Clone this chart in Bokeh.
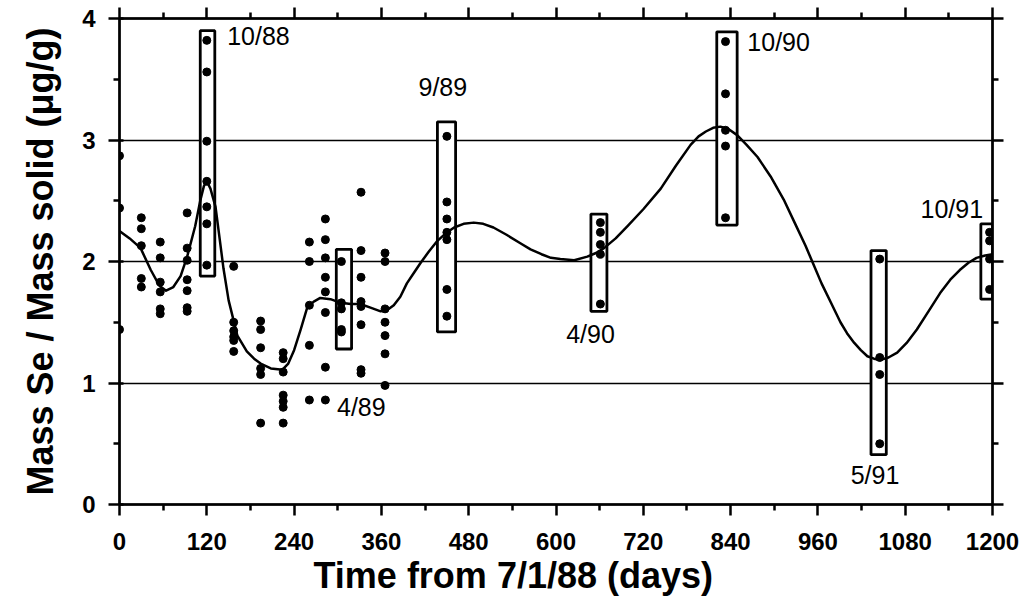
from bokeh.plotting import figure
from bokeh.models import Range1d, FixedTicker, LinearAxis, Title
from bokeh.embed import file_html
from bokeh.resources import INLINE
from bokeh.core.properties import value

# Sampling days (days from 7/1/88) and the Se concentrations measured on each
campaign_days = [0, 30, 56, 93, 120, 157, 194, 225, 261, 283, 305, 332, 365,
                 450, 661, 833, 1045, 1196]
campaign_se = [
    [2.87, 2.44, 1.44],
    [2.36, 2.27, 2.13, 1.86, 1.79],
    [2.16, 2.03, 1.83, 1.75, 1.61, 1.57],
    [2.40, 2.11, 2.01, 1.85, 1.76, 1.62, 1.59],
    [3.82, 3.56, 2.99, 2.66, 2.45, 2.31, 1.97],
    [1.96, 1.50, 1.43, 1.38, 1.35, 1.26],
    [1.51, 1.44, 1.29, 1.12, 1.07, 0.67],
    [1.25, 1.20, 1.09, 0.90, 0.85, 0.80, 0.67],
    [2.16, 2.00, 1.64, 1.31, 0.86],
    [2.35, 2.18, 2.03, 1.87, 1.75, 1.58, 1.13, 0.86],
    [2.00, 1.66, 1.61, 1.44, 1.42],
    [2.57, 2.09, 1.87, 1.67, 1.63, 1.48, 1.11, 1.08],
    [2.07, 2.00, 1.61, 1.50, 1.39, 1.24, 0.98],
    [3.03, 2.49, 2.35, 2.24, 2.18, 1.77, 1.55],
    [2.32, 2.24, 2.14, 2.06, 1.65],
    [3.81, 3.38, 3.08, 2.95, 2.36],
    [2.02, 1.21, 1.07, 0.50],
    [2.24, 2.17, 2.02, 1.77],
]

# Smoothed trend through the measurements
fit_day = [0, 14, 29, 43, 55, 64, 74, 84, 93, 104, 111, 116, 120, 125, 132,
           143, 150, 162, 175, 185, 194, 208, 224, 232, 240, 249, 258, 267,
           276, 290, 304, 318, 331, 345, 359, 368, 377, 386, 395, 405, 414,
           425, 437, 448, 460, 473, 487, 500, 514, 532, 551, 565, 580, 593,
           606, 625, 643, 655, 666, 682, 698, 720, 744, 765, 785, 796, 806,
           816, 826, 837, 849, 862, 877, 895, 913, 928, 943, 955, 965, 978,
           991, 1000, 1010, 1019, 1028, 1037, 1046, 1057, 1069, 1082, 1096,
           1112, 1128, 1142, 1155, 1167, 1178, 1190, 1200]
fit_se = [2.25, 2.19, 2.11, 1.93, 1.80, 1.76, 1.79, 1.88, 2.04, 2.29, 2.50,
          2.62, 2.66, 2.60, 2.45, 1.94, 1.68, 1.39, 1.26, 1.20, 1.16, 1.12,
          1.11, 1.16, 1.27, 1.44, 1.62, 1.67, 1.70, 1.69, 1.66, 1.65, 1.65,
          1.62, 1.59, 1.60, 1.64, 1.71, 1.82, 1.91, 1.99, 2.08, 2.17, 2.23,
          2.28, 2.31, 2.32, 2.31, 2.28, 2.22, 2.15, 2.10, 2.06, 2.03, 2.02,
          2.01, 2.04, 2.07, 2.11, 2.19, 2.29, 2.43, 2.60, 2.79, 2.96, 3.03,
          3.07, 3.10, 3.11, 3.09, 3.04, 2.96, 2.86, 2.70, 2.51, 2.32, 2.13,
          1.96, 1.82, 1.66, 1.50, 1.41, 1.33, 1.27, 1.22, 1.20, 1.19, 1.21,
          1.25, 1.33, 1.44, 1.59, 1.74, 1.85, 1.93, 1.99, 2.03, 2.05, 2.06]

# Sampling campaigns that are boxed and labelled
box_labels = ["10/88", "4/89", "9/89", "4/90", "10/90", "5/91", "10/91"]
box_start = [111, 298, 437, 648, 821, 1033, 1184]
box_end = [131, 319, 462, 670, 849, 1054, 1200]
box_low = [1.88, 1.28, 1.42, 1.59, 2.30, 0.41, 1.69]
box_high = [3.90, 2.10, 3.15, 2.39, 3.89, 2.09, 2.31]
label_day = [148, 299, 411, 614, 863, 1005, 1101]
label_se = [3.86, 0.80, 3.44, 1.40, 3.81, 0.24, 2.43]

x_ticks = list(range(0, 1201, 120))
x_minor = list(range(60, 1200, 120))
y_ticks = [0, 1, 2, 3, 4]
y_minor = [0.5, 1.5, 2.5, 3.5]

FONT = "Liberation Sans"

p = figure(width=1021, height=606, x_range=Range1d(0, 1200), y_range=Range1d(0, 4),
           output_backend="svg", toolbar_location=None,
           min_border_left=119, min_border_right=29, min_border_top=18,
           min_border_bottom=102, background_fill_color="white",
           border_fill_color="white")
p.outline_line_color = "black"
p.outline_line_width = 2

p.xgrid.visible = False
p.ygrid.ticker = FixedTicker(ticks=[1, 2, 3])
p.ygrid.grid_line_color = "black"
p.ygrid.grid_line_width = 1.6
p.ygrid.grid_line_alpha = 1.0


def style_axis(ax, ticks, minor, tick_in):
    ax.ticker = FixedTicker(ticks=ticks, minor_ticks=minor)
    ax.axis_line_color = "black"
    ax.axis_line_width = 2.5
    ax.major_tick_line_color = "black"
    ax.major_tick_line_width = 2.5
    ax.minor_tick_line_color = "black"
    ax.minor_tick_line_width = 2.5
    ax.major_tick_out = 11
    ax.major_tick_in = tick_in
    ax.minor_tick_out = 6
    ax.minor_tick_in = 0
    ax.major_label_text_font = FONT
    ax.major_label_text_font_style = "bold"
    ax.major_label_text_font_size = "24px"
    ax.major_label_text_color = "black"


xa = p.xaxis[0]
style_axis(xa, x_ticks, x_minor, 0)
xa.major_label_standoff = 17

ya = p.yaxis[0]
style_axis(ya, y_ticks, y_minor, 4)
ya.major_label_standoff = 13
ya.axis_label = "Mass Se / Mass solid (\u03bcg/g)"
ya.axis_label_text_font = FONT
ya.axis_label_text_font_style = "bold"
ya.axis_label_text_font_size = "36px"
ya.axis_label_text_color = "black"
ya.axis_label_standoff = 18

# tick-only frame axes on the top and right sides
top_ax = LinearAxis(ticker=FixedTicker(ticks=x_ticks, minor_ticks=x_minor))
right_ax = LinearAxis(ticker=FixedTicker(ticks=y_ticks, minor_ticks=y_minor))
for ax, ticks, minor in ((top_ax, x_ticks, x_minor), (right_ax, y_ticks, y_minor)):
    style_axis(ax, ticks, minor, 0)
    ax.major_label_text_font_size = "1px"
    ax.major_label_text_color = None
    ax.major_label_standoff = 0
p.add_layout(top_ax, "above")
p.add_layout(right_ax, "right")

p.add_layout(Title(text="Time from 7/1/88 (days)", align="left", offset=194,
                   text_font=FONT, text_font_style="bold", text_font_size="36px",
                   text_color="black", standoff=0), "below")

# campaign boxes
p.quad(left=box_start, right=box_end, bottom=box_low, top=box_high,
       fill_color="white", line_color="black", line_width=2.8)

# trend line
p.line(fit_day, fit_se, line_color="black", line_width=2.5, line_join="round")

# individual measurements
dot_x = [d for d, vals in zip(campaign_days, campaign_se) for _ in vals]
dot_y = [v for vals in campaign_se for v in vals]
p.scatter(dot_x, dot_y, size=8, color="black")

p.text(x=label_day, y=label_se, text=box_labels, text_font=value(FONT),
       text_font_size="25px", text_baseline="middle", text_align="left",
       text_color="black")

open("out.html", "w").write(file_html(p, INLINE))
